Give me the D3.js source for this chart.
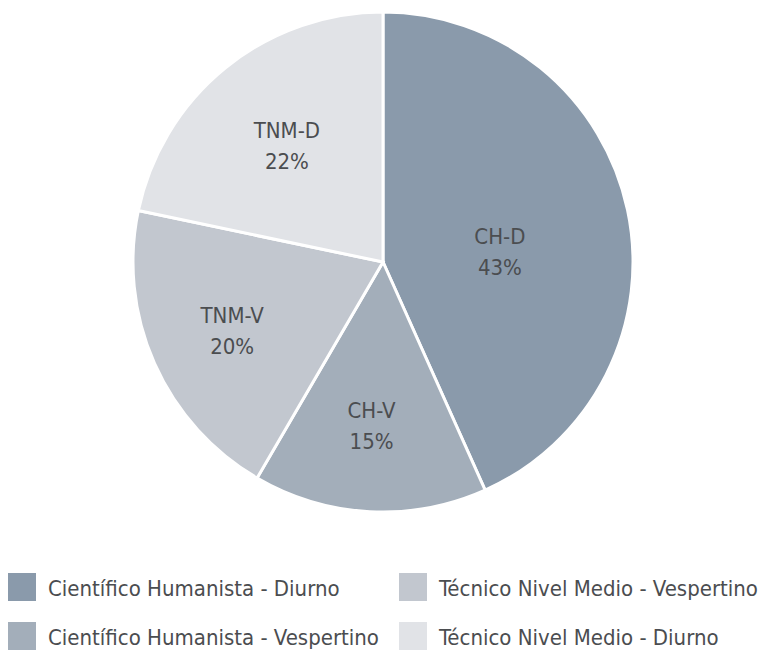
<!DOCTYPE html>
<html><head><meta charset="utf-8">
<script src="https://cdn.jsdelivr.net/npm/d3@7"></script>
<style>
body{margin:0;background:#fff;}
text{font-family:"DejaVu Sans Condensed","Liberation Sans Narrow",sans-serif;}
</style></head>
<body><svg id="c" width="760" height="651"></svg>
<script>
const labels = ["CH-D","CH-V","TNM-V","TNM-D"];
const legendNames = ["Científico Humanista - Diurno","Científico Humanista - Vespertino","Técnico Nivel Medio - Vespertino","Técnico Nivel Medio - Diurno"];
const values = [43.3,15.1,19.9,21.7];
const shown = [43,15,20,22];
const colors = ["#8a9aab","#a3aeba","#c2c7cf","#e1e3e7"];

const svg = d3.select("#c");
const cx = 383, cy = 262, R = 250;
const pie = d3.pie().sort(null).value(d=>d)(values);
const arc = d3.arc().innerRadius(0).outerRadius(R);
const g = svg.append("g").attr("transform",`translate(${cx},${cy})`);
g.selectAll("path").data(pie).enter().append("path")
  .attr("d",arc).attr("fill",(d,i)=>colors[i])
  .attr("stroke","#fff").attr("stroke-width",3);
// label placement (layout): radius fraction and angle shift per slice
const labelLayout = [[0.47,0.11],[0.65,0.017],[0.66,0],[0.61,0]];
const lt = g.selectAll("text.l").data(pie).enter().append("text")
  .attr("text-anchor","middle").attr("fill","#4b4d50").style("font-size","22px")
  .attr("transform",(d,i)=>{
    const a=(d.startAngle+d.endAngle)/2+labelLayout[i][1], r=R*labelLayout[i][0];
    return `translate(${r*Math.sin(a)},${-r*Math.cos(a)})`;});
lt.append("tspan").attr("x",0).attr("y",-6).text((d,i)=>labels[i]);
lt.append("tspan").attr("x",0).attr("y",25).text((d,i)=>shown[i]+"%");

const pos = [[8,573],[8,622],[399,573],[399,622]];
const lg = svg.selectAll("g.lg").data(legendNames).enter().append("g")
  .attr("transform",(d,i)=>`translate(${pos[i][0]},${pos[i][1]})`);
lg.append("rect").attr("width",28).attr("height",28).attr("fill",(d,i)=>colors[i]);
lg.append("text").attr("x",40).attr("y",23).attr("fill","#4b4d50").style("font-size","22px").text(d=>d);
</script></body></html>
